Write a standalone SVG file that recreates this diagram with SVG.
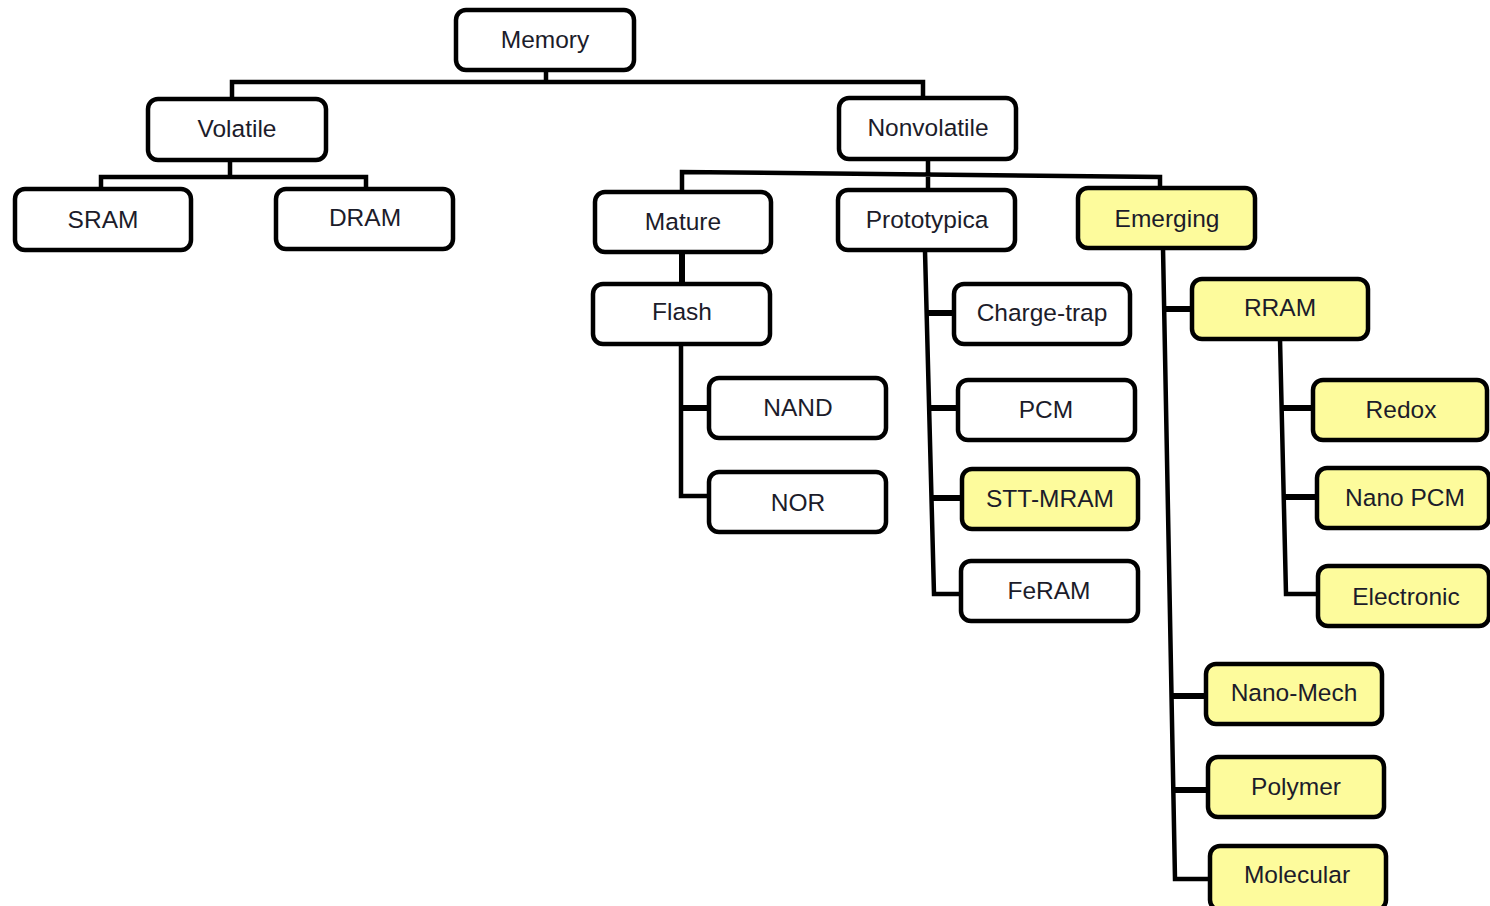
<svg xmlns="http://www.w3.org/2000/svg" width="1490" height="906" viewBox="0 0 1490 906">
  <style>
    .box { fill: #ffffff; stroke: #000000; stroke-width: 4.5; }
    .hl { fill: #fdfb9c; }
    .lbl { font-family: "Liberation Sans", Arial, sans-serif; font-size: 24.5px; fill: #1c1c2a; text-anchor: middle; }
    .wire { fill: none; stroke: #000000; stroke-width: 4.5; stroke-linejoin: miter; }
    .stub { fill: none; stroke: #000000; stroke-width: 6; }
  </style>
  <rect width="1490" height="906" fill="#ffffff"/>

  <!-- tree connectors -->
  <g id="connectors">
    <!-- Memory to Volatile / Nonvolatile -->
    <path class="wire" d="M546 70 V82 M232 99 V82 H923 V99"/>
    <!-- Volatile to SRAM / DRAM -->
    <path class="wire" d="M230 160 V177 M101 189 V177 H366 V189"/>
    <!-- Nonvolatile to Mature / Prototypica / Emerging -->
    <path class="wire" d="M928 159 V190 M682 191 V172 L1160 177 V188"/>
    <!-- Mature to Flash -->
    <path class="stub" d="M682 252 V284"/>
    <!-- Flash to NAND / NOR -->
    <path class="wire" d="M681 344 V496 H709"/>
    <path class="stub" d="M681 408 H709"/>
    <!-- Prototypica branch -->
    <path class="wire" d="M925 251 L934 594 H961"/>
    <path class="stub" d="M927 313 H954 M929 408 H958 M931 498 H962"/>
    <!-- Emerging branch -->
    <path class="wire" d="M1163 248 L1175 879 H1210"/>
    <path class="stub" d="M1165 309 H1192 M1170 696 H1206 M1172 790 H1208"/>
    <!-- RRAM branch -->
    <path class="wire" d="M1280 339 L1286 594 H1318"/>
    <path class="stub" d="M1282 408 H1313 M1284 497 H1317"/>
  </g>

  <g id="memory"><rect class="box" x="456" y="10" width="178" height="60" rx="10"/><text class="lbl" x="545" y="48">Memory</text></g>
  <g id="volatile"><rect class="box" x="148" y="99" width="178" height="61" rx="10"/><text class="lbl" x="237" y="137">Volatile</text></g>
  <g id="nonvolatile"><rect class="box" x="839" y="98" width="177" height="61" rx="10"/><text class="lbl" x="928" y="136">Nonvolatile</text></g>
  <g id="sram"><rect class="box" x="15" y="189" width="176" height="61" rx="10"/><text class="lbl" x="103" y="228">SRAM</text></g>
  <g id="dram"><rect class="box" x="276" y="189" width="177" height="60" rx="10"/><text class="lbl" x="365" y="226">DRAM</text></g>
  <g id="mature"><rect class="box" x="595" y="192" width="176" height="60" rx="10"/><text class="lbl" x="683" y="230">Mature</text></g>
  <g id="prototypica"><rect class="box" x="838" y="190" width="177" height="60" rx="10"/><text class="lbl" x="927" y="228">Prototypica</text></g>
  <g id="emerging"><rect class="box hl" x="1078" y="188" width="177" height="60" rx="10"/><text class="lbl" x="1167" y="227">Emerging</text></g>
  <g id="flash"><rect class="box" x="593" y="284" width="177" height="60" rx="10"/><text class="lbl" x="682" y="320">Flash</text></g>
  <g id="nand"><rect class="box" x="709" y="378" width="177" height="60" rx="10"/><text class="lbl" x="798" y="416">NAND</text></g>
  <g id="nor"><rect class="box" x="709" y="472" width="177" height="60" rx="10"/><text class="lbl" x="798" y="511">NOR</text></g>
  <g id="charge-trap"><rect class="box" x="954" y="284" width="176" height="60" rx="10"/><text class="lbl" x="1042" y="321">Charge-trap</text></g>
  <g id="pcm"><rect class="box" x="958" y="380" width="177" height="60" rx="10"/><text class="lbl" x="1046" y="418">PCM</text></g>
  <g id="stt-mram"><rect class="box hl" x="962" y="469" width="176" height="60" rx="10"/><text class="lbl" x="1050" y="507">STT-MRAM</text></g>
  <g id="feram"><rect class="box" x="961" y="561" width="177" height="60" rx="10"/><text class="lbl" x="1049" y="599">FeRAM</text></g>
  <g id="rram"><rect class="box hl" x="1192" y="279" width="176" height="60" rx="10"/><text class="lbl" x="1280" y="316">RRAM</text></g>
  <g id="redox"><rect class="box hl" x="1313" y="380" width="174" height="60" rx="10"/><text class="lbl" x="1401" y="418">Redox</text></g>
  <g id="nano-pcm"><rect class="box hl" x="1317" y="468" width="172" height="60" rx="10"/><text class="lbl" x="1405" y="506">Nano PCM</text></g>
  <g id="electronic"><rect class="box hl" x="1318" y="566" width="171" height="60" rx="10"/><text class="lbl" x="1406" y="605">Electronic</text></g>
  <g id="nano-mech"><rect class="box hl" x="1206" y="664" width="176" height="60" rx="10"/><text class="lbl" x="1294" y="701">Nano-Mech</text></g>
  <g id="polymer"><rect class="box hl" x="1208" y="757" width="176" height="60" rx="10"/><text class="lbl" x="1296" y="795">Polymer</text></g>
  <g id="molecular"><rect class="box hl" x="1210" y="846" width="176" height="64" rx="10"/><text class="lbl" x="1297" y="883">Molecular</text></g>
</svg>
